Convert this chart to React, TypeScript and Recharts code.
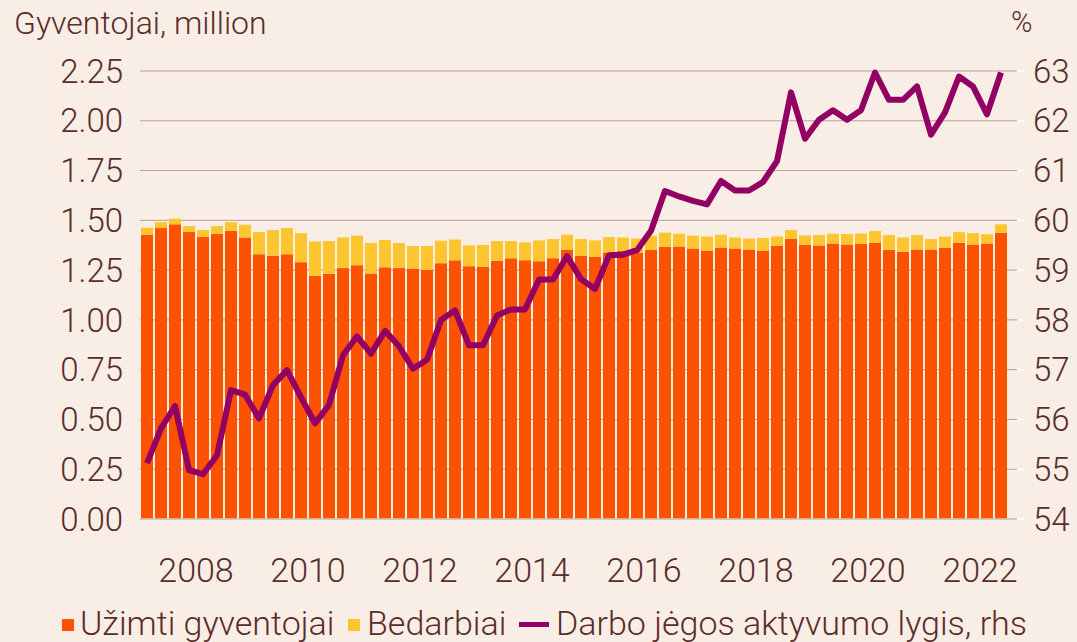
import { ComposedChart, Bar, Line, XAxis, YAxis, CartesianGrid } from "recharts";

const years = [2007, 2008, 2009, 2010, 2011, 2012, 2013, 2014, 2015, 2016, 2017, 2018, 2019, 2020, 2021, 2022];
const quarters = years.flatMap((y) => [`${y}Q1`, `${y}Q2`, `${y}Q3`, `${y}Q4`]).slice(0, 62);

// Užimti gyventojai, mln.
const employed = [
  1.428, 1.461, 1.48, 1.441, 1.418, 1.433, 1.448, 1.414, 1.33, 1.322, 1.33, 1.29, 1.221, 1.231, 1.26, 1.275,
  1.233, 1.264, 1.26, 1.258, 1.252, 1.285, 1.299, 1.27, 1.267, 1.297, 1.309, 1.3, 1.295, 1.31, 1.351, 1.322,
  1.317, 1.339, 1.347, 1.339, 1.351, 1.367, 1.369, 1.359, 1.346, 1.363, 1.359, 1.354, 1.347, 1.372, 1.406, 1.377,
  1.374, 1.384, 1.379, 1.381, 1.387, 1.352, 1.342, 1.354, 1.354, 1.362, 1.387, 1.379, 1.384, 1.438,
];

// Bedarbiai, mln.
const unemployed = [
  0.035, 0.03, 0.028, 0.03, 0.033, 0.038, 0.043, 0.064, 0.111, 0.129, 0.131, 0.146, 0.173, 0.165, 0.154, 0.148,
  0.153, 0.137, 0.126, 0.113, 0.119, 0.113, 0.105, 0.104, 0.109, 0.099, 0.087, 0.089, 0.104, 0.096, 0.077, 0.084,
  0.082, 0.077, 0.067, 0.069, 0.072, 0.071, 0.064, 0.064, 0.073, 0.065, 0.055, 0.054, 0.064, 0.047, 0.045, 0.047,
  0.052, 0.049, 0.052, 0.053, 0.059, 0.074, 0.072, 0.072, 0.052, 0.056, 0.054, 0.057, 0.046, 0.042,
];

// Darbo jėgos aktyvumo lygis, % (rhs)
const activityRate = [
  55.12, 55.82, 56.27, 54.98, 54.9, 55.28, 56.59, 56.5, 56.02, 56.69, 56.99, 56.45, 55.92, 56.29, 57.29, 57.67,
  57.32, 57.78, 57.47, 57.02, 57.2, 58.0, 58.19, 57.49, 57.49, 58.09, 58.21, 58.21, 58.81, 58.81, 59.28, 58.82,
  58.62, 59.3, 59.31, 59.4, 59.79, 60.59, 60.48, 60.39, 60.32, 60.79, 60.6, 60.6, 60.77, 61.19, 62.57, 61.64,
  62.02, 62.21, 62.02, 62.21, 62.97, 62.42, 62.42, 62.69, 61.72, 62.17, 62.89, 62.69, 62.13, 62.97,
];

const yearTicks = ["2008Q1", "2010Q1", "2012Q1", "2014Q1", "2016Q1", "2018Q1", "2020Q1", "2022Q1"];
const leftTicks = [0, 0.25, 0.5, 0.75, 1, 1.25, 1.5, 1.75, 2, 2.25];
const rightTicks = [54, 55, 56, 57, 58, 59, 60, 61, 62, 63];

const data = quarters.map((q, i) => ({
  q,
  employed: employed[i],
  unemployed: unemployed[i],
  rate: activityRate[i],
}));

const BG = "#F9EEE5";
const TEXT = "#5A2C2A";
const ORANGE = "#FD5200";
const YELLOW = "#FEC62E";
const PURPLE = "#930063";
const FONT = "Roboto, 'Noto Sans', sans-serif";

// year label sits on the boundary between Q4 and Q1
const YearTick = (props: any) => {
  const { x, y, payload } = props;
  return (
    <text x={x - 7} y={y} dy="0.71em" textAnchor="middle" fill={TEXT} fontSize={34} fontWeight={300} fontFamily={FONT}>
      {String(payload.value).slice(0, 4)}
    </text>
  );
};

export default function App() {
  return (
    <div style={{ position: "absolute", left: 0, top: 0, width: 1077, height: 642, background: BG, fontFamily: FONT }}>
      <ComposedChart width={1077} height={642} data={data} margin={{ top: 71, right: 0, bottom: 0, left: 0 }}>
        <CartesianGrid yAxisId="left" vertical={false} stroke="#B9A09C" strokeWidth={1} />
        <XAxis
          dataKey="q"
          ticks={yearTicks}
          interval={0}
          height={123}
          padding={{ left: 0, right: 9 }}
          tick={<YearTick />}
          tickLine={false}
          tickSize={0}
          tickMargin={39}
          axisLine={{ stroke: "#D3C6C0", strokeWidth: 1.5 }}
        />
        <YAxis
          yAxisId="left"
          width={140}
          domain={[0, 2.25]}
          ticks={leftTicks}
          interval={0}
          tickFormatter={(v: number) => v.toFixed(2)}
          tick={{ fill: TEXT, fontSize: 33, fontWeight: 300, fontFamily: FONT }}
          tickLine={false}
          tickSize={0}
          tickMargin={17}
          axisLine={false}
        />
        <YAxis
          yAxisId="right"
          orientation="right"
          width={60}
          domain={[54, 63]}
          ticks={rightTicks}
          interval={0}
          tick={{ fill: TEXT, fontSize: 33, fontWeight: 300, fontFamily: FONT, textAnchor: "start" }}
          tickLine={{ stroke: "#FFFFFF", strokeWidth: 1.5 }}
          tickSize={8}
          tickMargin={8}
          axisLine={false}
        />
        <Bar yAxisId="left" dataKey="employed" stackId="a" fill={ORANGE} barSize={12} isAnimationActive={false} />
        <Bar yAxisId="left" dataKey="unemployed" stackId="a" fill={YELLOW} barSize={12} isAnimationActive={false} />
        <Line
          yAxisId="right"
          dataKey="rate"
          type="linear"
          stroke={PURPLE}
          strokeWidth={6}
          strokeLinejoin="round"
          dot={false}
          activeDot={false}
          isAnimationActive={false}
        />
      </ComposedChart>
      <svg width={1077} height={642} style={{ position: "absolute", left: 0, top: 0, pointerEvents: "none" }}>
        <text x={14} y={34} fontSize={32} fontWeight={300} fill={TEXT} fontFamily={FONT}>
          Gyventojai, million
        </text>
        <text x={1011} y={32} fontSize={29} fontWeight={300} fill={TEXT} fontFamily={FONT}>
          %
        </text>
        <rect x={62} y={619} width={12} height={12} fill={ORANGE} />
        <text x={80} y={635} fontSize={34} fontWeight={300} fill={TEXT} fontFamily={FONT}>
          Užimti gyventojai
        </text>
        <rect x={348} y={619} width={12} height={12} fill={YELLOW} />
        <text x={367} y={635} fontSize={34} fontWeight={300} fill={TEXT} fontFamily={FONT}>
          Bedarbiai
        </text>
        <rect x={519} y={622} width={30} height={5} fill={PURPLE} />
        <text x={556} y={635} fontSize={34} fontWeight={300} fill={TEXT} fontFamily={FONT}>
          Darbo jėgos aktyvumo lygis, rhs
        </text>
      </svg>
    </div>
  );
}
